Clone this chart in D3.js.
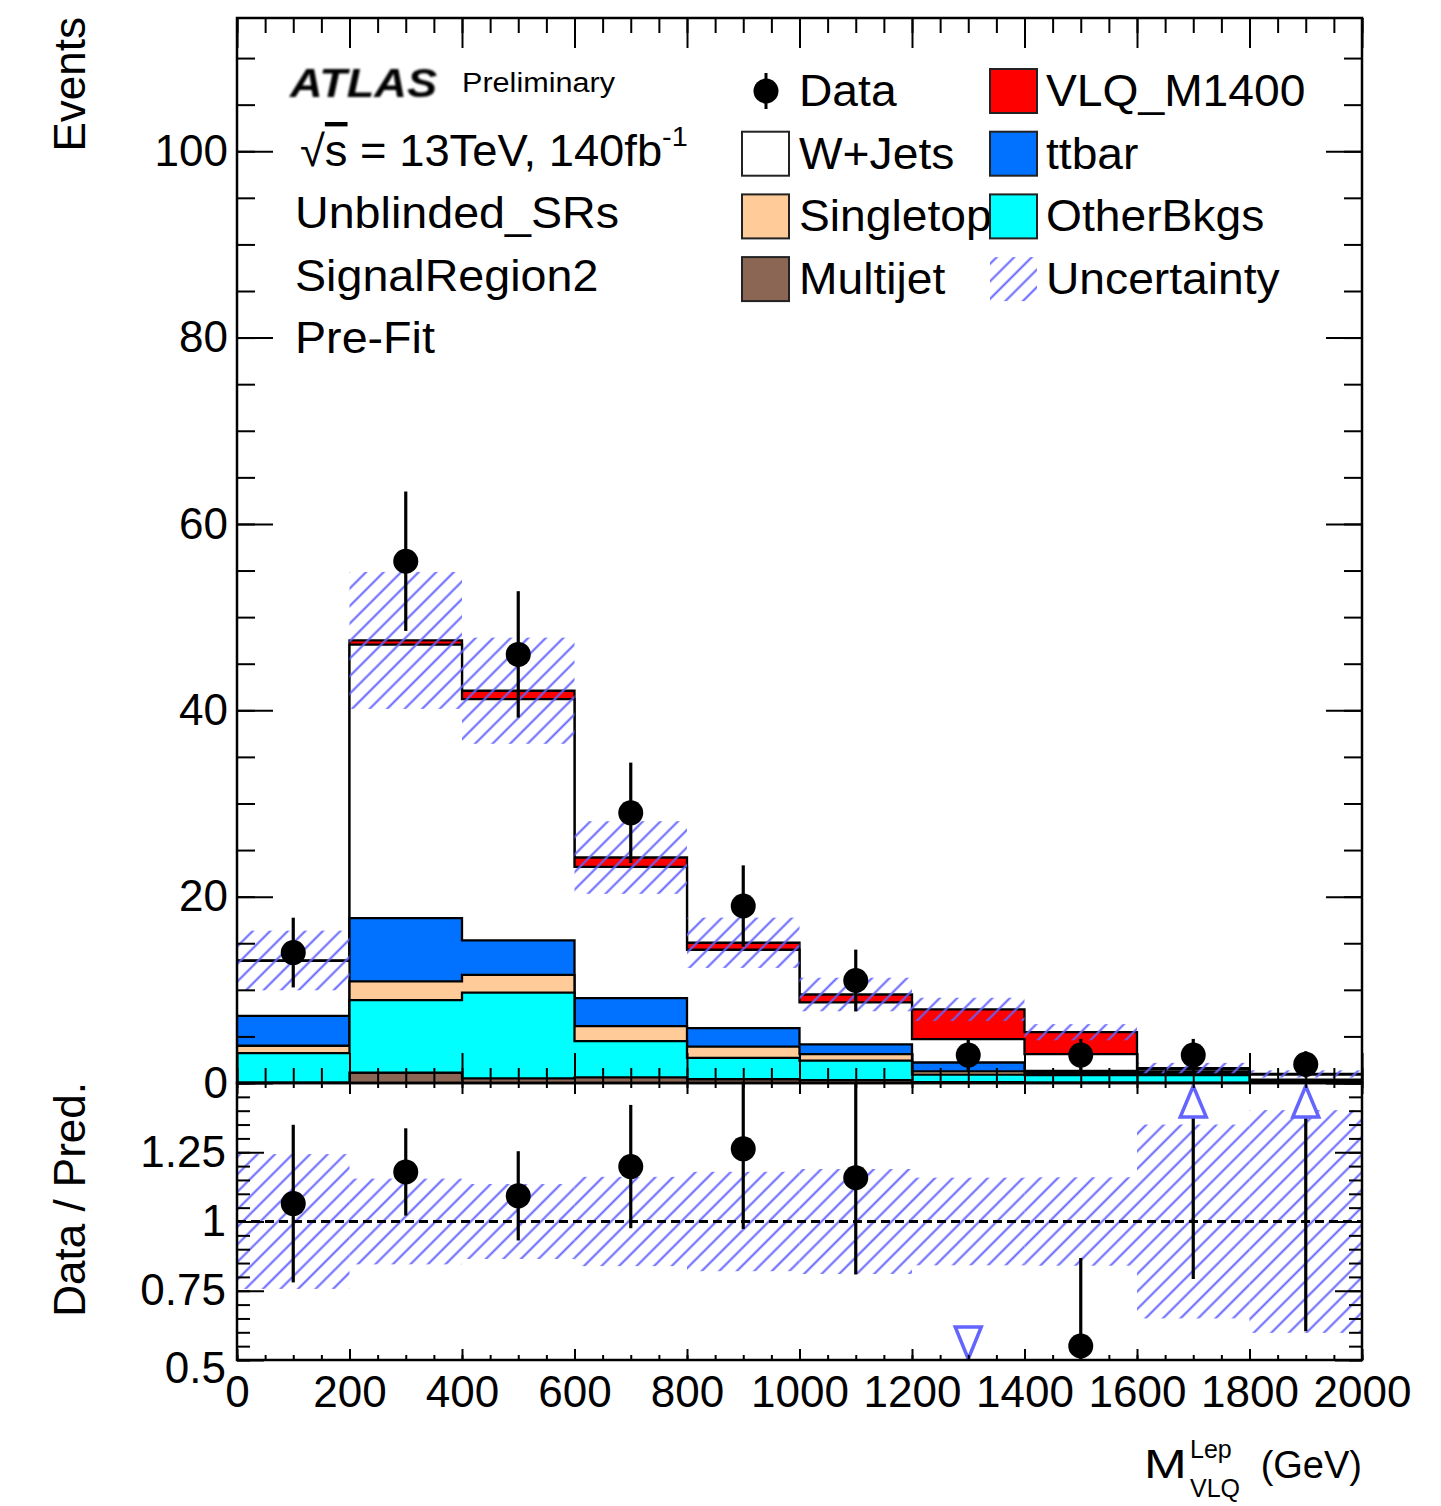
<!DOCTYPE html>
<html>
<head>
<meta charset="utf-8">
<script src="https://cdn.jsdelivr.net/npm/d3@7"></script>
<style>
  body { margin: 0; background: #fff; }
  text { font-family: "Liberation Sans", Arial, Helvetica, sans-serif; fill: #000; }
</style>
</head>
<body>
<svg id="chart" width="1441" height="1506"></svg>
<script>
// ---- data ----
var binEdges = [0, 200, 400, 600, 800, 1000, 1200, 1400, 1600, 1800, 2000];
var multijet  = [0.05, 1.1, 0.5, 0.6, 0.4, 0.3, 0.1, 0.05, 0.02, 0.02];
var otherBkgs = [3.15, 7.8, 9.2, 3.9, 2.3, 2.1, 0.8, 0.8, 0.83, 0.15];
var singletop = [0.8, 2.0, 1.9, 1.6, 1.2, 0.7, 0.35, 0.2, 0.1, 0.05];
var ttbar     = [3.2, 6.8, 3.7, 3.0, 2.0, 1.05, 0.95, 0.25, 0.25, 0.13];
var wjets     = [5.9, 29.35, 25.9, 14.1, 8.4, 4.5, 2.5, 1.8, 0.25, 0.55];
var vlq       = [0.05, 0.45, 0.9, 1.0, 0.75, 0.85, 3.2, 2.35, 0.15, 0.07];
var dataCounts = [14, 56, 46, 29, 19, 11, 3, 3, 3, 2];
var uncertainty = [3.2, 7.35, 5.7, 3.9, 2.7, 1.8, 1.25, 0.87, 0.56, 0.39];

var yTicksMain = [0, 20, 40, 60, 80, 100];
var yTicksRatio = [0.5, 0.75, 1, 1.25];
var xTicks = [0, 200, 400, 600, 800, 1000, 1200, 1400, 1600, 1800, 2000];

var legendLeft = ["Data", "W+Jets", "Singletop", "Multijet"];
var legendRight = ["VLQ_M1400", "ttbar", "OtherBkgs", "Uncertainty"];
var infoLines = ["Unblinded_SRs", "SignalRegion2", "Pre-Fit"];

var colors = {
  "Multijet": "#8b6655",
  "OtherBkgs": "#00ffff",
  "Singletop": "#ffcc99",
  "ttbar": "#0072ff",
  "W+Jets": "#ffffff",
  "VLQ_M1400": "#ff0000"
};
var hatchColor = "#6464ff";

// stacking order, bottom first
var stack = [
  { name: "Multijet", values: multijet },
  { name: "OtherBkgs", values: otherBkgs },
  { name: "Singletop", values: singletop },
  { name: "ttbar", values: ttbar },
  { name: "W+Jets", values: wjets },
  { name: "VLQ_M1400", values: vlq }
];

var running = dataCounts.map(function() { return 0; });
stack.forEach(function(s) {
  s.cum = s.values.map(function(v, i) { running[i] += v; return running[i]; });
});
var total = running.slice();

// ---- layout ----
var frame = { left: 237, right: 1362, top: 18, mid: 1083, bottom: 1360 };
var FONT = 44;

var svg = d3.select("#chart");
var x = d3.scaleLinear().domain([0, 2000]).range([frame.left, frame.right]);
var y = d3.scaleLinear().domain([0, 114.3]).range([frame.mid, frame.top]);
var yr = d3.scaleLinear().domain([0.5, 1.5]).range([frame.bottom, frame.mid]);

var defs = svg.append("defs");
var pat = defs.append("pattern")
  .attr("id", "hatch")
  .attr("patternUnits", "userSpaceOnUse")
  .attr("width", 12.4).attr("height", 12.4)
  .attr("patternTransform", "rotate(45)");
pat.append("line")
  .attr("x1", 6.2).attr("y1", 0).attr("x2", 6.2).attr("y2", 12.4)
  .attr("stroke", hatchColor).attr("stroke-width", 2);

defs.append("clipPath").attr("id", "clipMain").append("rect")
  .attr("x", frame.left).attr("y", frame.top)
  .attr("width", frame.right - frame.left).attr("height", frame.mid - frame.top);
defs.append("clipPath").attr("id", "clipRatio").append("rect")
  .attr("x", frame.left).attr("y", frame.mid)
  .attr("width", frame.right - frame.left).attr("height", frame.bottom - frame.mid);

defs.append("filter").attr("id", "blur")
  .append("feGaussianBlur").attr("stdDeviation", 1.3);

function stepPoints(vals) {
  var pts = [];
  vals.forEach(function(v, i) {
    pts.push([binEdges[i], v]);
    pts.push([binEdges[i + 1], v]);
  });
  return pts;
}

// stretch text a little wider, the way the original renders it
function widen(sel, f) {
  sel.each(function() {
    var len = this.getComputedTextLength();
    d3.select(this).attr("textLength", len * f).attr("lengthAdjust", "spacingAndGlyphs");
  });
}

// ---- main panel ----
var main = svg.append("g").attr("clip-path", "url(#clipMain)");

var area = d3.area()
  .x(function(d) { return x(d[0]); })
  .y0(y(0))
  .y1(function(d) { return y(d[1]); });
var line = d3.line()
  .x(function(d) { return x(d[0]); })
  .y(function(d) { return y(d[1]); });

stack.slice().reverse().forEach(function(s) {
  var pts = stepPoints(s.cum);
  main.append("path")
    .attr("d", area(pts))
    .attr("fill", colors[s.name]);
  main.append("path")
    .attr("d", line(pts))
    .attr("fill", "none")
    .attr("stroke", "#000")
    .attr("stroke-width", 2.3);
});

// uncertainty band
main.selectAll("rect.band")
  .data(total)
  .enter().append("rect")
  .attr("class", "band")
  .attr("x", function(d, i) { return x(binEdges[i]); })
  .attr("width", function(d, i) { return x(binEdges[i + 1]) - x(binEdges[i]); })
  .attr("y", function(d, i) { return y(d + uncertainty[i]); })
  .attr("height", function(d, i) { return y(d - uncertainty[i]) - y(d + uncertainty[i]); })
  .attr("fill", "url(#hatch)");

// data
function binCenter(i) { return (binEdges[i] + binEdges[i + 1]) / 2; }

main.selectAll("line.err")
  .data(dataCounts)
  .enter().append("line")
  .attr("x1", function(d, i) { return x(binCenter(i)); })
  .attr("x2", function(d, i) { return x(binCenter(i)); })
  .attr("y1", function(d) { return y(d + Math.sqrt(d)); })
  .attr("y2", function(d) { return y(d - Math.sqrt(d)); })
  .attr("stroke", "#000").attr("stroke-width", 3.2);
main.selectAll("circle.pt")
  .data(dataCounts)
  .enter().append("circle")
  .attr("cx", function(d, i) { return x(binCenter(i)); })
  .attr("cy", function(d) { return y(d); })
  .attr("r", 12.5)
  .attr("fill", "#000");

// ---- ratio panel ----
var ratio = svg.append("g").attr("clip-path", "url(#clipRatio)");

ratio.selectAll("rect.rband")
  .data(total)
  .enter().append("rect")
  .attr("x", function(d, i) { return x(binEdges[i]); })
  .attr("width", function(d, i) { return x(binEdges[i + 1]) - x(binEdges[i]); })
  .attr("y", function(d, i) { return yr(1 + uncertainty[i] / d); })
  .attr("height", function(d, i) { return yr(1 - uncertainty[i] / d) - yr(1 + uncertainty[i] / d); })
  .attr("fill", "url(#hatch)");

ratio.append("line")
  .attr("x1", x(0)).attr("x2", x(2000))
  .attr("y1", yr(1)).attr("y2", yr(1))
  .attr("stroke", "#000").attr("stroke-width", 3)
  .attr("stroke-dasharray", "9,5");

var ratioPts = dataCounts.map(function(d, i) {
  return { xc: binCenter(i), r: d / total[i], e: Math.sqrt(d) / total[i] };
});

ratioPts.forEach(function(p) {
  var cx = x(p.xc);
  if (p.r > 1.5) {
    var base = yr(1.5) + 34;
    ratio.append("line")
      .attr("x1", cx).attr("x2", cx)
      .attr("y1", base).attr("y2", yr(p.r - p.e))
      .attr("stroke", "#000").attr("stroke-width", 3.2);
    ratio.append("path")
      .attr("d", d3.line()([[cx - 13, base], [cx + 13, base], [cx, yr(1.5) + 3]]) + "Z")
      .attr("fill", "#fff").attr("stroke", hatchColor).attr("stroke-width", 3.5);
  } else if (p.r < 0.5) {
    var top = yr(0.5) - 33;
    ratio.append("path")
      .attr("d", d3.line()([[cx - 13, top], [cx + 13, top], [cx, yr(0.5) - 1]]) + "Z")
      .attr("fill", "#fff").attr("stroke", hatchColor).attr("stroke-width", 3.5);
  } else {
    ratio.append("line")
      .attr("x1", cx).attr("x2", cx)
      .attr("y1", yr(p.r + p.e)).attr("y2", yr(p.r - p.e))
      .attr("stroke", "#000").attr("stroke-width", 3.2);
    ratio.append("circle")
      .attr("cx", cx).attr("cy", yr(p.r)).attr("r", 12.5)
      .attr("fill", "#000");
  }
});

// ---- axes ----
function styleAxis(g) {
  g.select(".domain").remove();
  g.selectAll(".tick line").attr("stroke", "#000").attr("stroke-width", 2);
  g.selectAll("text")
    .attr("font-family", "'Liberation Sans', Arial, sans-serif")
    .attr("font-size", FONT)
    .attr("fill", "#000");
  g.attr("font-family", null).attr("font-size", null);
}
var noLabel = function() { return ""; };
var minorMain = d3.range(0, 115, 5);
var minorX = d3.range(0, 2001, 50);
var minorRatio = d3.range(0.5, 1.501, 0.05);

// main y
svg.append("g").attr("transform", "translate(" + frame.left + ",0)")
  .call(d3.axisLeft(y).tickValues(minorMain).tickSize(-18).tickFormat(noLabel)).call(styleAxis);
svg.append("g").attr("transform", "translate(" + frame.left + ",0)")
  .call(d3.axisLeft(y).tickValues(yTicksMain).tickSize(-36).tickPadding(9).tickFormat(d3.format("d")))
  .call(styleAxis);
svg.append("g").attr("transform", "translate(" + frame.right + ",0)")
  .call(d3.axisRight(y).tickValues(minorMain).tickSize(-18).tickFormat(noLabel)).call(styleAxis);
svg.append("g").attr("transform", "translate(" + frame.right + ",0)")
  .call(d3.axisRight(y).tickValues(yTicksMain).tickSize(-36).tickFormat(noLabel)).call(styleAxis);

// main x (bottom and top)
[[frame.mid, d3.axisBottom], [frame.top, d3.axisTop]].forEach(function(a) {
  svg.append("g").attr("transform", "translate(0," + a[0] + ")")
    .call(a[1](x).tickValues(minorX).tickSize(-15).tickFormat(noLabel)).call(styleAxis);
  svg.append("g").attr("transform", "translate(0," + a[0] + ")")
    .call(a[1](x).tickValues(xTicks).tickSize(-30).tickFormat(noLabel)).call(styleAxis);
});

// ratio y
svg.append("g").attr("transform", "translate(" + frame.left + ",0)")
  .call(d3.axisLeft(yr).tickValues(minorRatio).tickSize(-13).tickFormat(noLabel)).call(styleAxis);
var ryAxis = svg.append("g").attr("transform", "translate(" + frame.left + ",0)")
  .call(d3.axisLeft(yr).tickValues(yTicksRatio).tickSize(-27).tickPadding(11).tickFormat(d3.format("")))
  .call(styleAxis);
ryAxis.selectAll(".tick").filter(function(d) { return d === 0.5; })
  .select("text").attr("dy", "0.5em");
svg.append("g").attr("transform", "translate(" + frame.right + ",0)")
  .call(d3.axisRight(yr).tickValues(minorRatio).tickSize(-13).tickFormat(noLabel)).call(styleAxis);
svg.append("g").attr("transform", "translate(" + frame.right + ",0)")
  .call(d3.axisRight(yr).tickValues(yTicksRatio.concat([1.5])).tickSize(-27).tickFormat(noLabel)).call(styleAxis);

// ratio x
[[frame.bottom, d3.axisBottom], [frame.mid, d3.axisTop]].forEach(function(a) {
  svg.append("g").attr("transform", "translate(0," + a[0] + ")")
    .call(a[1](x).tickValues(minorX).tickSize(-5).tickFormat(noLabel)).call(styleAxis);
});
svg.append("g").attr("transform", "translate(0," + frame.mid + ")")
  .call(d3.axisTop(x).tickValues(xTicks).tickSize(-11).tickFormat(noLabel)).call(styleAxis);
svg.append("g").attr("transform", "translate(0," + frame.bottom + ")")
  .call(d3.axisBottom(x).tickValues(xTicks).tickSize(-11).tickPadding(16).tickFormat(d3.format("d")))
  .call(styleAxis);

// frames
svg.append("rect")
  .attr("x", frame.left).attr("y", frame.top)
  .attr("width", frame.right - frame.left).attr("height", frame.mid - frame.top)
  .attr("fill", "none").attr("stroke", "#000").attr("stroke-width", 2.5);
svg.append("rect")
  .attr("x", frame.left).attr("y", frame.mid)
  .attr("width", frame.right - frame.left).attr("height", frame.bottom - frame.mid)
  .attr("fill", "none").attr("stroke", "#000").attr("stroke-width", 2.5);

// ---- axis titles ----
svg.append("text")
  .attr("transform", "translate(85," + (frame.top - 1) + ") rotate(-90)")
  .attr("text-anchor", "end")
  .attr("font-size", FONT)
  .text("Events");
svg.append("text")
  .attr("transform", "translate(85," + (frame.mid - 1) + ") rotate(-90)")
  .attr("text-anchor", "end")
  .attr("font-size", FONT)
  .text("Data / Pred.");

var xt = svg.append("g").attr("transform", "translate(" + frame.right + ",1478)");
xt.append("text").attr("x", -218).attr("font-size", 41).text("M").call(widen, 1.25);
xt.append("text").attr("x", -172).attr("y", -20).attr("font-size", 25).text("Lep");
xt.append("text").attr("x", -172).attr("y", 19).attr("font-size", 25).text("VLQ");
xt.append("text").attr("x", 0).attr("text-anchor", "end").attr("font-size", 38).text("(GeV)");

// ---- ATLAS label & info ----
svg.append("text")
  .attr("x", 290).attr("y", 97)
  .attr("font-size", 40).attr("font-weight", "bold").attr("font-style", "italic")
  .attr("textLength", 147).attr("lengthAdjust", "spacingAndGlyphs")
  .attr("filter", "url(#blur)")
  .text("ATLAS");
svg.append("text")
  .attr("x", 462).attr("y", 92)
  .attr("font-size", 27)
  .attr("font-family", "'DejaVu Sans', sans-serif")
  .attr("textLength", 153).attr("lengthAdjust", "spacingAndGlyphs")
  .text("Preliminary");

var lum = svg.append("text").attr("x", 300).attr("y", 166).attr("font-size", FONT);
lum.append("tspan").text("\u221A");
lum.append("tspan").attr("text-decoration", "overline").text("s");
lum.append("tspan").text(" = 13TeV, 140fb");
lum.append("tspan").attr("dy", -20).attr("font-size", 28).text("-1");
widen(lum, 1.03);

infoLines.forEach(function(t, i) {
  svg.append("text")
    .attr("x", 295).attr("y", 228 + i * 62.5)
    .attr("font-size", FONT)
    .text(t)
    .call(widen, 1.06);
});

// ---- legend ----
var rowY = function(i) { return 91 + i * 62.7; };
var boxW = 47, boxH = 44;

function legendBox(xb, i, name) {
  if (name === "Uncertainty") {
    svg.append("rect")
      .attr("x", xb).attr("y", rowY(i) - boxH / 2)
      .attr("width", boxW).attr("height", boxH)
      .attr("fill", "url(#hatch)");
  } else {
    svg.append("rect")
      .attr("x", xb).attr("y", rowY(i) - boxH / 2)
      .attr("width", boxW).attr("height", boxH)
      .attr("fill", colors[name]).attr("stroke", "#222").attr("stroke-width", 2);
  }
}

legendLeft.forEach(function(name, i) {
  if (name === "Data") {
    svg.append("line")
      .attr("x1", 766).attr("x2", 766)
      .attr("y1", rowY(i) - 18).attr("y2", rowY(i) + 18)
      .attr("stroke", "#000").attr("stroke-width", 3);
    svg.append("circle").attr("cx", 766).attr("cy", rowY(i)).attr("r", 12.5).attr("fill", "#000");
  } else {
    legendBox(742, i, name);
  }
  svg.append("text").attr("x", 799).attr("y", rowY(i) + 15).attr("font-size", FONT).text(name)
    .call(widen, 1.05);
});
legendRight.forEach(function(name, i) {
  legendBox(990, i, name);
  svg.append("text").attr("x", 1046).attr("y", rowY(i) + 15).attr("font-size", FONT).text(name)
    .call(widen, 1.05);
});
</script>
</body>
</html>
